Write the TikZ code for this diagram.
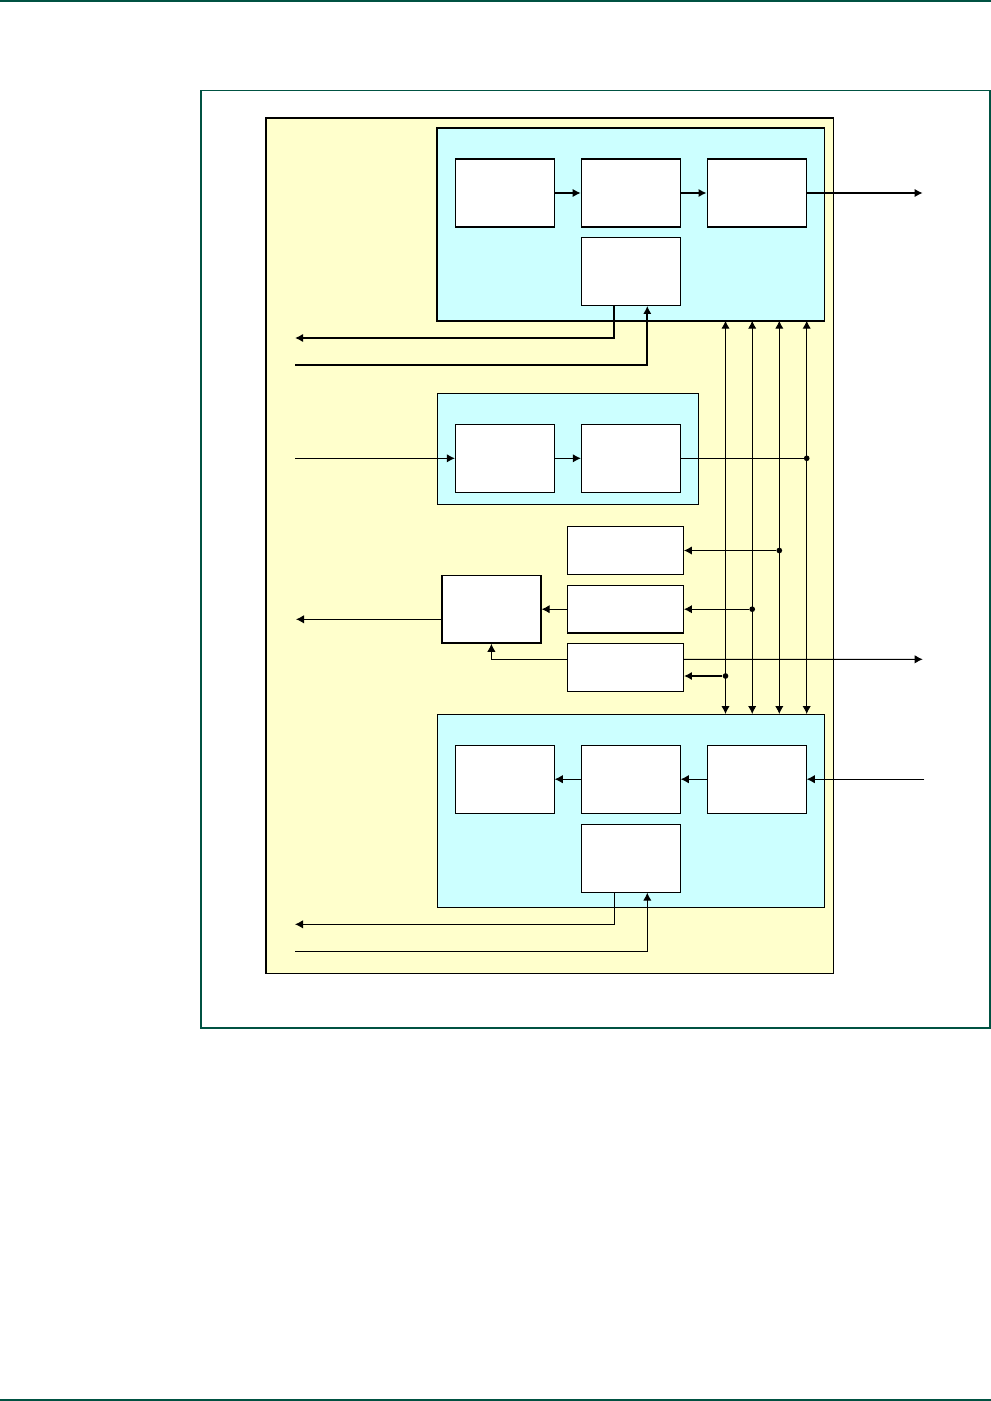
\documentclass[tikz,border=0pt]{standalone}
\usepackage{xcolor}
\usepackage{tikz}
\usetikzlibrary{arrows.meta,calc,positioning}
\definecolor{framegreen}{RGB}{0,82,66}
\definecolor{panelyellow}{RGB}{255,255,204}
\definecolor{unitcyan}{RGB}{204,255,255}

\begin{document}
\begin{tikzpicture}[
  x=0.03cm,y=-0.03cm,
  >={Latex[length=2.4mm,width=2.5mm]},
  thinln/.style={line width=0.8pt},
  thickln/.style={line width=1.4pt},
  blk/.style={draw,fill=white,line width=0.8pt,inner sep=0pt,
    minimum width=2.97cm,minimum height=2.04cm},
  smallblk/.style={blk,line width=1.1pt,minimum width=3.47cm,minimum height=1.43cm},
  unit/.style={draw,fill=unitcyan,line width=1.1pt},
  dot/.style={circle,fill,inner sep=0pt,minimum size=0.17cm}
]
  \useasboundingbox (0,0) rectangle (991,1401);
  % page rules and figure frame
  \draw[framegreen,line width=1.3pt] (0,1) -- (991,1);
  \draw[framegreen,line width=1.3pt] (0,1400) -- (991,1400);
  \draw[framegreen,line width=0.9pt] (201,90.5) rectangle (990,1028);
  \draw[fill=panelyellow,line width=1pt] (266,118) rectangle (833.5,973.5);

  % top unit
  \draw[unit,line width=1.4pt] (437.3,128) rectangle (824.5,320.7);
  \node[blk,line width=1pt] (t1) at (504.8,193) {};
  \node[blk,line width=1pt] (t2) at (630.8,193) {};
  \node[blk,line width=1.3pt] (t3) at (756.8,193) {};
  \node[blk,line width=1pt,minimum height=2.03cm] (t4) at (630.8,271.5) {};
  \coordinate (tOut) at (922.7,193);
  \coordinate (tRet) at (295,338);
  \coordinate (tIn) at (295,365);
  \draw[->,thickln] (t1) -- (t2);
  \draw[->,thickln] (t2) -- (t3);
  \draw[->,thickln] (t3) -- (tOut);
  \draw[->,thickln] ($(t4.south)+(-16.5,0)$) |- (tRet);
  \draw[->,thickln] (tIn) -| ($(t4.south)+(16.5,0)$);

  % middle unit
  \draw[unit,line width=0.8pt] (437.3,393.7) rectangle (698.3,504.3);
  \node[blk] (m1) at (504.8,458.3) {};
  \node[blk] (m2) at (630.8,458.3) {};
  \coordinate (mIn) at (295,458.3);
  \draw[->,thinln] (mIn) -- (m1);
  \draw[->,thinln] (m1) -- (m2);

  % small blocks
  \node[smallblk] (s1) at (625.5,550.5) {};
  \node[smallblk] (s2) at (625.5,609.2) {};
  \node[smallblk] (s3) at (625.5,667.5) {};
  \node[blk,line width=1.3pt,minimum height=2.03cm] (d1) at (491.4,609.2) {};
  \coordinate (dOut) at (296,619.3);
  \coordinate (sOut) at (922.7,659.3);
  \coordinate (s3in) at ($(s3.east)+(0,8.5)$);
  \draw[->,thinln] (s2) -- (d1);
  \draw[->,thinln] ($(d1.west)+(0,10.1)$) -- (dOut);
  \draw[->,thinln] ($(s3.west)+(0,-8.2)$) -| (d1.south);
  \draw[->,thinln] ($(s3.east)+(0,-8.2)$) -- (sOut);

  % bottom unit
  \draw[unit,line width=0.8pt] (437.3,714) rectangle (824.3,907.3);
  \node[blk] (b1) at (504.8,779.2) {};
  \node[blk] (b2) at (630.8,779.2) {};
  \node[blk] (b3) at (756.8,779.2) {};
  \node[blk] (b4) at (630.8,858.2) {};
  \coordinate (bIn) at (924.3,779.2);
  \coordinate (bRet) at (295,924.3);
  \coordinate (bFb) at (295,951);
  \draw[->,thinln] (bIn) -- (b3);
  \draw[->,thinln] (b3) -- (b2);
  \draw[->,thinln] (b2) -- (b1);
  \draw[->,thinln] ($(b4.south)+(-16.5,0)$) |- (bRet);
  \draw[->,thinln] (bFb) -| ($(b4.south)+(16.5,0)$);

  % bus between top and bottom units
  \foreach \bx [count=\i] in {725.5,752.2,779.3,806.7} {
    \coordinate (busT\i) at (\bx,320.7);
    \coordinate (busB\i) at (\bx,714);
    \draw[<->,thinln] (busT\i) -- (busB\i);
  }
  \node[dot] (j4) at (m2.east -| busT4) {};
  \node[dot] (j3) at (s1.east -| busT3) {};
  \node[dot] (j2) at (s2.east -| busT2) {};
  \node[dot] (j1) at (s3in -| busT1) {};
  \draw[thinln] (m2) -- (j4);
  \draw[->,thinln] (j3) -- (s1);
  \draw[->,thinln] (j2) -- (s2);
  \draw[->,thickln] (j1) -- (s3in);
\end{tikzpicture}
\end{document}
